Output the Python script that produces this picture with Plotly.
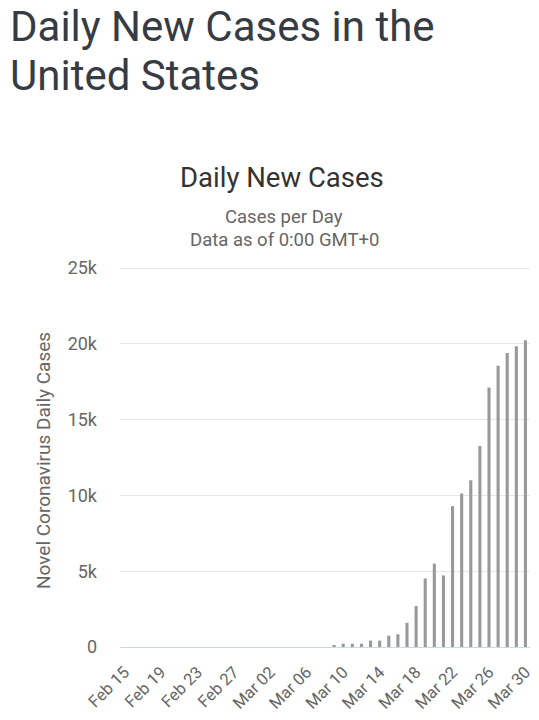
import plotly.graph_objects as go

# Data
dates = ["Feb 15", "Feb 16", "Feb 17", "Feb 18", "Feb 19", "Feb 20", "Feb 21", "Feb 22",
         "Feb 23", "Feb 24", "Feb 25", "Feb 26", "Feb 27", "Feb 28", "Feb 29",
         "Mar 01", "Mar 02", "Mar 03", "Mar 04", "Mar 05", "Mar 06", "Mar 07", "Mar 08",
         "Mar 09", "Mar 10", "Mar 11", "Mar 12", "Mar 13", "Mar 14", "Mar 15", "Mar 16",
         "Mar 17", "Mar 18", "Mar 19", "Mar 20", "Mar 21", "Mar 22", "Mar 23", "Mar 24",
         "Mar 25", "Mar 26", "Mar 27", "Mar 28", "Mar 29", "Mar 30"]
daily_cases = [0, 0, 0, 0, 0, 0, 0, 0,
               0, 0, 0, 0, 0, 0, 0,
               0, 0, 0, 0, 0, 0, 0, 0,
               110, 220, 220, 220, 420, 420, 750, 840,
               1600, 2700, 4520, 5500, 4720, 9290, 10130, 11000,
               13260, 17120, 18560, 19400, 19840, 20240]
x_tick_labels = ["Feb 15", "Feb 19", "Feb 23", "Feb 27", "Mar 02", "Mar 06",
                 "Mar 10", "Mar 14", "Mar 18", "Mar 22", "Mar 26", "Mar 30"]
y_tick_values = [0, 5000, 10000, 15000, 20000, 25000]
y_tick_labels = ["0", "5k", "10k", "15k", "20k", "25k"]

FONT = "Roboto, 'Noto Sans', sans-serif"

fig = go.Figure(go.Bar(x=dates, y=daily_cases, marker=dict(color="#999999", line=dict(width=0)),
                       hoverinfo="x+y"))

fig.update_layout(
    width=539, height=720,
    margin=dict(l=120, r=9, t=265, b=73, autoexpand=False),
    paper_bgcolor="white", plot_bgcolor="white",
    font=dict(family=FONT, color="#666666"),
    bargap=0.66,
    showlegend=False,
    xaxis=dict(
        type="category", automargin=False,
        tickmode="array", tickvals=x_tick_labels, ticktext=x_tick_labels,
        tickangle=-45, tickfont=dict(size=16.5, color="#666666"),
        showgrid=False, showline=True, linecolor="#ccd6eb", linewidth=1,
        ticks="", zeroline=False, ticklabelstandoff=8,
    ),
    yaxis=dict(
        automargin=False,
        range=[0, 25200], tickmode="array", tickvals=y_tick_values, ticktext=y_tick_labels,
        tickfont=dict(size=18, color="#666666"),
        showgrid=True, gridcolor="#e6e6e6", gridwidth=1,
        zeroline=False, showline=False, ticks="", ticklabelstandoff=22,
    ),
    annotations=[
        dict(text="Daily New Cases in the", xref="paper", yref="paper", x=-0.273, y=1.6256,
             xanchor="left", yanchor="middle", showarrow=False,
             font=dict(size=42, color="#363b44", family=FONT)),
        dict(text="United States", xref="paper", yref="paper", x=-0.273, y=1.4950,
             xanchor="left", yanchor="middle", showarrow=False,
             font=dict(size=42, color="#363b44", family=FONT)),
        dict(text="Daily New Cases", xref="paper", yref="paper", x=0.394, y=1.2303,
             xanchor="center", yanchor="middle", showarrow=False,
             font=dict(size=27.5, color="#333333", family=FONT)),
        dict(text="Cases per Day", xref="paper", yref="paper", x=0.400, y=1.1257,
             xanchor="center", yanchor="middle", showarrow=False,
             font=dict(size=18.5, color="#666666", family=FONT)),
        dict(text="Data as of 0:00 GMT+0", xref="paper", yref="paper", x=0.400, y=1.0655,
             xanchor="center", yanchor="middle", showarrow=False,
             font=dict(size=18.5, color="#666666", family=FONT)),
        dict(text="Novel Coronavirus Daily Cases", xref="paper", yref="paper", x=-0.1878, y=0.4869,
             xanchor="center", yanchor="middle", textangle=-90, showarrow=False,
             font=dict(size=19, color="#666666", family=FONT)),
    ],
)

fig.write_html("out.html", config={"displayModeBar": False},
               post_script="document.body.style.margin='0';")
